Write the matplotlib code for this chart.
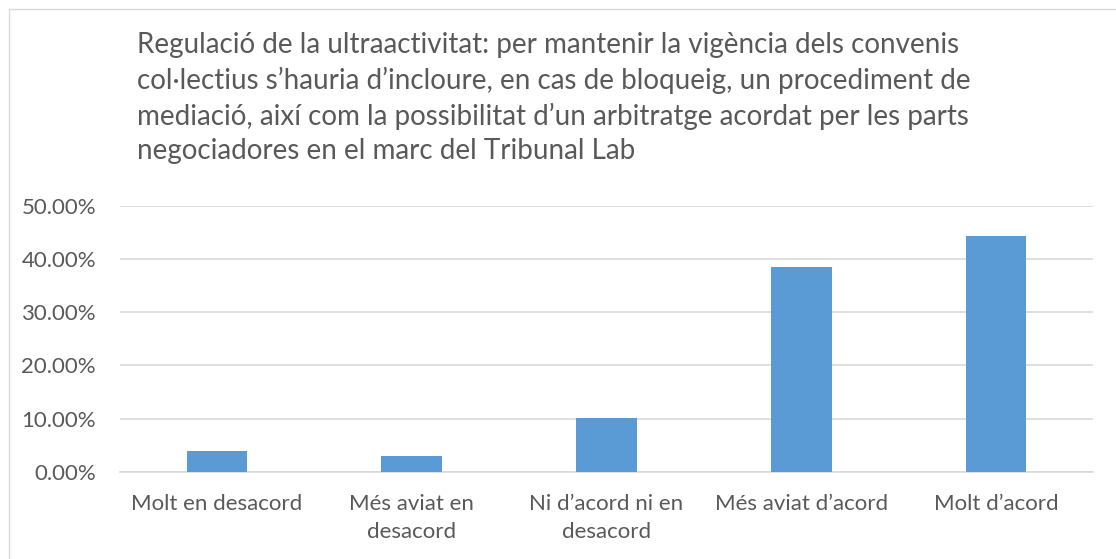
import matplotlib
matplotlib.use("Agg")
import matplotlib.pyplot as plt
from matplotlib.patches import Rectangle
from matplotlib.ticker import FuncFormatter

categories = ["Molt en desacord", "Més aviat en\ndesacord", "Ni d\u2019acord ni en\ndesacord",
              "Més aviat d\u2019acord", "Molt d\u2019acord"]
values = [3.9, 2.95, 10.1, 38.5, 44.4]
title = ("Regulació de la ultraactivitat: per mantenir la vigència dels convenis\n"
         "col·lectius s\u2019hauria d\u2019incloure, en cas de bloqueig, un procediment de\n"
         "mediació, així com la possibilitat d\u2019un arbitratge acordat per les parts\n"
         "negociadores en el marc del Tribunal Lab")
yticks = [0, 10, 20, 30, 40, 50]

W, H = 1116, 559
plt.rcParams['font.family'] = ['Lato', 'DejaVu Sans']
fig = plt.figure(figsize=(W / 100, H / 100), dpi=100)
fig.patches.append(Rectangle((8.5 / W, -0.1), 1.2, (H - 9.5) / H + 0.1,
                             transform=fig.transFigure, fill=False,
                             edgecolor='#d9d9d9', linewidth=1))

ax = fig.add_axes([119.6 / W, (H - 471.7) / H, (1093.4 - 119.6) / W, (471.7 - 206) / H])
x = list(range(len(categories)))
ax.bar(x, values, width=0.313, color='#5b9bd5', zorder=3)
ax.set_xlim(-0.5, len(categories) - 0.5)
ax.set_ylim(0, 50)
ax.set_yticks(yticks)
ax.yaxis.set_major_formatter(FuncFormatter(lambda v, p: f"{v:.2f}%"))
ax.set_xticks(x)
ax.set_xticklabels(categories, fontsize=16, color='#595959', linespacing=1.5)
ax.tick_params(axis='y', length=0, pad=17, labelsize=16, labelcolor='#595959')
ax.tick_params(axis='x', length=0, pad=16)
ax.grid(axis='y', color='#d9d9d9', linewidth=1.2, zorder=0)
for s in ['top', 'right', 'left']:
    ax.spines[s].set_visible(False)
ax.spines['bottom'].set_color('#d9d9d9')
ax.spines['bottom'].set_linewidth(1.2)

fig.text(137 / W, 1 - 32 / H, title, ha='left', va='top', fontsize=20,
         color='#595959', linespacing=1.39)

fig.savefig("out.png", dpi=100)
